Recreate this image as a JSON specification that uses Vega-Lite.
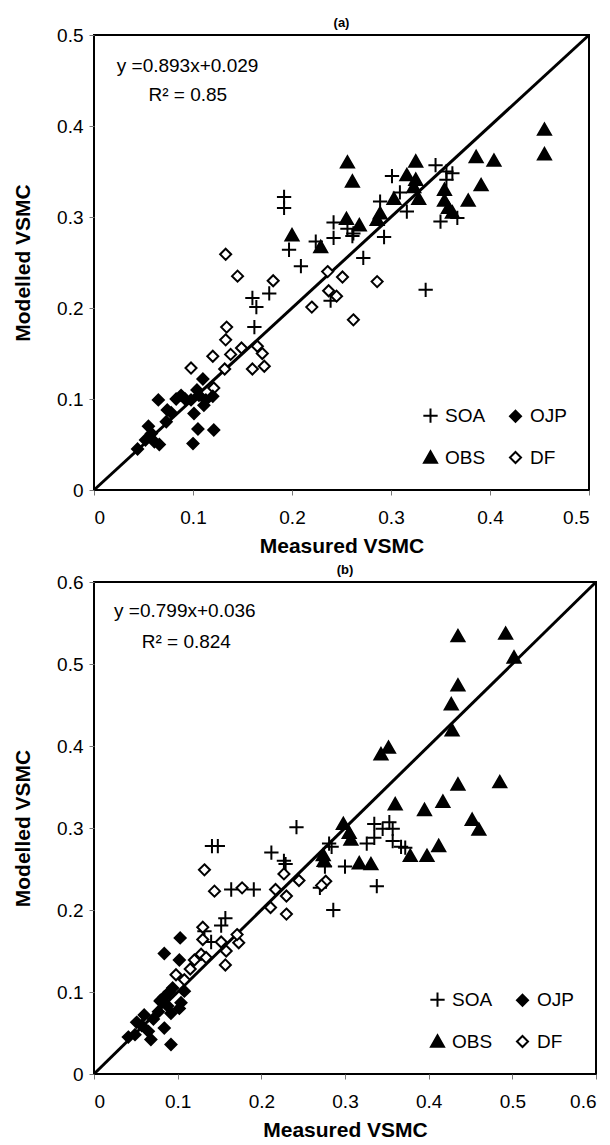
{
  "$schema": "https://vega.github.io/schema/vega-lite/v6.json",
  "padding": {"left": 11, "top": 16, "right": 2, "bottom": 2},
  "background": "white",
  "config": {
    "font": "Liberation Sans",
    "view": {"stroke": "black", "strokeWidth": 2},
    "axis": {"grid": false, "domain": false, "tickColor": "#777", "tickSize": 5, "tickWidth": 1,
             "labelFontSize": 19, "labelColor": "black", "labelFont": "Liberation Sans",
             "titleFontSize": 21, "titleFontWeight": "bold", "titleColor": "black", "titleFont": "Liberation Sans"},
    "axisX": {"titlePadding": 8, "labelPadding": 13},
    "axisY": {"titlePadding": 23, "labelPadding": 6},
    "title": {"fontSize": 13, "fontWeight": "bold", "offset": -4, "anchor": "middle", "font": "Liberation Sans", "color": "black"},
    "legend": {"orient": "bottom-right", "columns": 2, "offset": 22, "padding": 0, "rowPadding": 20, "columnPadding": 19,
               "symbolSize": 169, "symbolStrokeColor": "black", "symbolStrokeWidth": 2, "labelFontSize": 19,
               "labelFont": "Liberation Sans", "labelColor": "black", "labelOffset": 5, "title": null}
  },
  "datasets": {
    "pts": [
      {"panel":"a","series":"OBS","measured":0.455,"modelled":0.396},
      {"panel":"a","series":"OBS","measured":0.455,"modelled":0.369},
      {"panel":"a","series":"OBS","measured":0.386,"modelled":0.366},
      {"panel":"a","series":"OBS","measured":0.404,"modelled":0.362},
      {"panel":"a","series":"OBS","measured":0.391,"modelled":0.335},
      {"panel":"a","series":"OBS","measured":0.378,"modelled":0.318},
      {"panel":"a","series":"OBS","measured":0.256,"modelled":0.36},
      {"panel":"a","series":"OBS","measured":0.261,"modelled":0.339},
      {"panel":"a","series":"OBS","measured":0.325,"modelled":0.361},
      {"panel":"a","series":"OBS","measured":0.316,"modelled":0.346},
      {"panel":"a","series":"OBS","measured":0.325,"modelled":0.341},
      {"panel":"a","series":"OBS","measured":0.323,"modelled":0.333},
      {"panel":"a","series":"OBS","measured":0.328,"modelled":0.32},
      {"panel":"a","series":"OBS","measured":0.303,"modelled":0.32},
      {"panel":"a","series":"OBS","measured":0.289,"modelled":0.304},
      {"panel":"a","series":"OBS","measured":0.286,"modelled":0.297},
      {"panel":"a","series":"OBS","measured":0.255,"modelled":0.298},
      {"panel":"a","series":"OBS","measured":0.268,"modelled":0.291},
      {"panel":"a","series":"OBS","measured":0.354,"modelled":0.33},
      {"panel":"a","series":"OBS","measured":0.354,"modelled":0.318},
      {"panel":"a","series":"OBS","measured":0.358,"modelled":0.31},
      {"panel":"a","series":"OBS","measured":0.362,"modelled":0.305},
      {"panel":"a","series":"OBS","measured":0.2,"modelled":0.28},
      {"panel":"a","series":"OBS","measured":0.229,"modelled":0.267},
      {"panel":"a","series":"SOA","measured":0.345,"modelled":0.357},
      {"panel":"a","series":"SOA","measured":0.356,"modelled":0.35},
      {"panel":"a","series":"SOA","measured":0.362,"modelled":0.348},
      {"panel":"a","series":"SOA","measured":0.356,"modelled":0.341},
      {"panel":"a","series":"SOA","measured":0.301,"modelled":0.345},
      {"panel":"a","series":"SOA","measured":0.309,"modelled":0.327},
      {"panel":"a","series":"SOA","measured":0.289,"modelled":0.317},
      {"panel":"a","series":"SOA","measured":0.316,"modelled":0.306},
      {"panel":"a","series":"SOA","measured":0.35,"modelled":0.295},
      {"panel":"a","series":"SOA","measured":0.367,"modelled":0.299},
      {"panel":"a","series":"SOA","measured":0.293,"modelled":0.278},
      {"panel":"a","series":"SOA","measured":0.262,"modelled":0.282},
      {"panel":"a","series":"SOA","measured":0.192,"modelled":0.322},
      {"panel":"a","series":"SOA","measured":0.192,"modelled":0.31},
      {"panel":"a","series":"SOA","measured":0.242,"modelled":0.294},
      {"panel":"a","series":"SOA","measured":0.256,"modelled":0.287},
      {"panel":"a","series":"SOA","measured":0.261,"modelled":0.279},
      {"panel":"a","series":"SOA","measured":0.242,"modelled":0.277},
      {"panel":"a","series":"SOA","measured":0.224,"modelled":0.273},
      {"panel":"a","series":"SOA","measured":0.197,"modelled":0.264},
      {"panel":"a","series":"SOA","measured":0.209,"modelled":0.246},
      {"panel":"a","series":"SOA","measured":0.272,"modelled":0.255},
      {"panel":"a","series":"SOA","measured":0.335,"modelled":0.22},
      {"panel":"a","series":"SOA","measured":0.16,"modelled":0.211},
      {"panel":"a","series":"SOA","measured":0.164,"modelled":0.201},
      {"panel":"a","series":"SOA","measured":0.177,"modelled":0.216},
      {"panel":"a","series":"SOA","measured":0.162,"modelled":0.179},
      {"panel":"a","series":"SOA","measured":0.239,"modelled":0.208},
      {"panel":"a","series":"DF","measured":0.133,"modelled":0.259},
      {"panel":"a","series":"DF","measured":0.145,"modelled":0.235},
      {"panel":"a","series":"DF","measured":0.181,"modelled":0.23},
      {"panel":"a","series":"DF","measured":0.134,"modelled":0.179},
      {"panel":"a","series":"DF","measured":0.133,"modelled":0.165},
      {"panel":"a","series":"DF","measured":0.12,"modelled":0.147},
      {"panel":"a","series":"DF","measured":0.098,"modelled":0.134},
      {"panel":"a","series":"DF","measured":0.138,"modelled":0.149},
      {"panel":"a","series":"DF","measured":0.149,"modelled":0.156},
      {"panel":"a","series":"DF","measured":0.132,"modelled":0.133},
      {"panel":"a","series":"DF","measured":0.165,"modelled":0.158},
      {"panel":"a","series":"DF","measured":0.17,"modelled":0.15},
      {"panel":"a","series":"DF","measured":0.172,"modelled":0.136},
      {"panel":"a","series":"DF","measured":0.16,"modelled":0.133},
      {"panel":"a","series":"DF","measured":0.121,"modelled":0.112},
      {"panel":"a","series":"DF","measured":0.236,"modelled":0.24},
      {"panel":"a","series":"DF","measured":0.251,"modelled":0.234},
      {"panel":"a","series":"DF","measured":0.237,"modelled":0.219},
      {"panel":"a","series":"DF","measured":0.245,"modelled":0.213},
      {"panel":"a","series":"DF","measured":0.22,"modelled":0.201},
      {"panel":"a","series":"DF","measured":0.286,"modelled":0.229},
      {"panel":"a","series":"DF","measured":0.262,"modelled":0.187},
      {"panel":"a","series":"OJP","measured":0.065,"modelled":0.099},
      {"panel":"a","series":"OJP","measured":0.11,"modelled":0.122},
      {"panel":"a","series":"OJP","measured":0.088,"modelled":0.104},
      {"panel":"a","series":"OJP","measured":0.083,"modelled":0.1},
      {"panel":"a","series":"OJP","measured":0.098,"modelled":0.099},
      {"panel":"a","series":"OJP","measured":0.106,"modelled":0.104},
      {"panel":"a","series":"OJP","measured":0.113,"modelled":0.099},
      {"panel":"a","series":"OJP","measured":0.12,"modelled":0.103},
      {"panel":"a","series":"OJP","measured":0.111,"modelled":0.093},
      {"panel":"a","series":"OJP","measured":0.101,"modelled":0.084},
      {"panel":"a","series":"OJP","measured":0.074,"modelled":0.088},
      {"panel":"a","series":"OJP","measured":0.073,"modelled":0.075},
      {"panel":"a","series":"OJP","measured":0.055,"modelled":0.07},
      {"panel":"a","series":"OJP","measured":0.052,"modelled":0.055},
      {"panel":"a","series":"OJP","measured":0.061,"modelled":0.053},
      {"panel":"a","series":"OJP","measured":0.066,"modelled":0.05},
      {"panel":"a","series":"OJP","measured":0.044,"modelled":0.045},
      {"panel":"a","series":"OJP","measured":0.105,"modelled":0.067},
      {"panel":"a","series":"OJP","measured":0.121,"modelled":0.066},
      {"panel":"a","series":"OJP","measured":0.1,"modelled":0.051},
      {"panel":"a","series":"OJP","measured":0.092,"modelled":0.1},
      {"panel":"a","series":"OJP","measured":0.104,"modelled":0.11},
      {"panel":"a","series":"OJP","measured":0.078,"modelled":0.085},
      {"panel":"a","series":"OJP","measured":0.058,"modelled":0.062},

      {"panel":"b","series":"OBS","measured":0.435,"modelled":0.534},
      {"panel":"b","series":"OBS","measured":0.492,"modelled":0.537},
      {"panel":"b","series":"OBS","measured":0.502,"modelled":0.508},
      {"panel":"b","series":"OBS","measured":0.435,"modelled":0.474},
      {"panel":"b","series":"OBS","measured":0.427,"modelled":0.451},
      {"panel":"b","series":"OBS","measured":0.428,"modelled":0.419},
      {"panel":"b","series":"OBS","measured":0.352,"modelled":0.398},
      {"panel":"b","series":"OBS","measured":0.343,"modelled":0.39},
      {"panel":"b","series":"OBS","measured":0.435,"modelled":0.353},
      {"panel":"b","series":"OBS","measured":0.485,"modelled":0.356},
      {"panel":"b","series":"OBS","measured":0.417,"modelled":0.332},
      {"panel":"b","series":"OBS","measured":0.36,"modelled":0.329},
      {"panel":"b","series":"OBS","measured":0.395,"modelled":0.322},
      {"panel":"b","series":"OBS","measured":0.452,"modelled":0.31},
      {"panel":"b","series":"OBS","measured":0.46,"modelled":0.298},
      {"panel":"b","series":"OBS","measured":0.412,"modelled":0.278},
      {"panel":"b","series":"OBS","measured":0.398,"modelled":0.266},
      {"panel":"b","series":"OBS","measured":0.378,"modelled":0.266},
      {"panel":"b","series":"OBS","measured":0.331,"modelled":0.256},
      {"panel":"b","series":"OBS","measured":0.317,"modelled":0.257},
      {"panel":"b","series":"OBS","measured":0.298,"modelled":0.305},
      {"panel":"b","series":"OBS","measured":0.305,"modelled":0.294},
      {"panel":"b","series":"OBS","measured":0.307,"modelled":0.286},
      {"panel":"b","series":"OBS","measured":0.274,"modelled":0.267},
      {"panel":"b","series":"OBS","measured":0.275,"modelled":0.26},
      {"panel":"b","series":"SOA","measured":0.242,"modelled":0.301},
      {"panel":"b","series":"SOA","measured":0.141,"modelled":0.278},
      {"panel":"b","series":"SOA","measured":0.148,"modelled":0.278},
      {"panel":"b","series":"SOA","measured":0.212,"modelled":0.27},
      {"panel":"b","series":"SOA","measured":0.227,"modelled":0.26},
      {"panel":"b","series":"SOA","measured":0.229,"modelled":0.256},
      {"panel":"b","series":"SOA","measured":0.284,"modelled":0.277},
      {"panel":"b","series":"SOA","measured":0.276,"modelled":0.253},
      {"panel":"b","series":"SOA","measured":0.3,"modelled":0.253},
      {"panel":"b","series":"SOA","measured":0.326,"modelled":0.281},
      {"panel":"b","series":"SOA","measured":0.335,"modelled":0.305},
      {"panel":"b","series":"SOA","measured":0.345,"modelled":0.299},
      {"panel":"b","series":"SOA","measured":0.353,"modelled":0.307},
      {"panel":"b","series":"SOA","measured":0.357,"modelled":0.299},
      {"panel":"b","series":"SOA","measured":0.335,"modelled":0.288},
      {"panel":"b","series":"SOA","measured":0.357,"modelled":0.284},
      {"panel":"b","series":"SOA","measured":0.367,"modelled":0.277},
      {"panel":"b","series":"SOA","measured":0.372,"modelled":0.276},
      {"panel":"b","series":"SOA","measured":0.338,"modelled":0.229},
      {"panel":"b","series":"SOA","measured":0.286,"modelled":0.2},
      {"panel":"b","series":"SOA","measured":0.164,"modelled":0.225},
      {"panel":"b","series":"SOA","measured":0.191,"modelled":0.225},
      {"panel":"b","series":"SOA","measured":0.27,"modelled":0.227},
      {"panel":"b","series":"SOA","measured":0.157,"modelled":0.19},
      {"panel":"b","series":"SOA","measured":0.152,"modelled":0.181},
      {"panel":"b","series":"SOA","measured":0.132,"modelled":0.174},
      {"panel":"b","series":"SOA","measured":0.14,"modelled":0.161},
      {"panel":"b","series":"SOA","measured":0.281,"modelled":0.281},
      {"panel":"b","series":"DF","measured":0.132,"modelled":0.249},
      {"panel":"b","series":"DF","measured":0.144,"modelled":0.223},
      {"panel":"b","series":"DF","measured":0.177,"modelled":0.227},
      {"panel":"b","series":"DF","measured":0.227,"modelled":0.244},
      {"panel":"b","series":"DF","measured":0.245,"modelled":0.236},
      {"panel":"b","series":"DF","measured":0.217,"modelled":0.225},
      {"panel":"b","series":"DF","measured":0.23,"modelled":0.217},
      {"panel":"b","series":"DF","measured":0.211,"modelled":0.203},
      {"panel":"b","series":"DF","measured":0.23,"modelled":0.195},
      {"panel":"b","series":"DF","measured":0.277,"modelled":0.235},
      {"panel":"b","series":"DF","measured":0.272,"modelled":0.23},
      {"panel":"b","series":"DF","measured":0.13,"modelled":0.179},
      {"panel":"b","series":"DF","measured":0.13,"modelled":0.164},
      {"panel":"b","series":"DF","measured":0.152,"modelled":0.161},
      {"panel":"b","series":"DF","measured":0.158,"modelled":0.15},
      {"panel":"b","series":"DF","measured":0.157,"modelled":0.133},
      {"panel":"b","series":"DF","measured":0.173,"modelled":0.16},
      {"panel":"b","series":"DF","measured":0.171,"modelled":0.17},
      {"panel":"b","series":"DF","measured":0.12,"modelled":0.139},
      {"panel":"b","series":"DF","measured":0.098,"modelled":0.121},
      {"panel":"b","series":"DF","measured":0.108,"modelled":0.115},
      {"panel":"b","series":"DF","measured":0.128,"modelled":0.146},
      {"panel":"b","series":"DF","measured":0.134,"modelled":0.142},
      {"panel":"b","series":"DF","measured":0.115,"modelled":0.128},
      {"panel":"b","series":"OJP","measured":0.103,"modelled":0.166},
      {"panel":"b","series":"OJP","measured":0.084,"modelled":0.147},
      {"panel":"b","series":"OJP","measured":0.102,"modelled":0.139},
      {"panel":"b","series":"OJP","measured":0.108,"modelled":0.101},
      {"panel":"b","series":"OJP","measured":0.09,"modelled":0.1},
      {"panel":"b","series":"OJP","measured":0.084,"modelled":0.094},
      {"panel":"b","series":"OJP","measured":0.079,"modelled":0.089},
      {"panel":"b","series":"OJP","measured":0.104,"modelled":0.087},
      {"panel":"b","series":"OJP","measured":0.102,"modelled":0.08},
      {"panel":"b","series":"OJP","measured":0.088,"modelled":0.083},
      {"panel":"b","series":"OJP","measured":0.077,"modelled":0.076},
      {"panel":"b","series":"OJP","measured":0.06,"modelled":0.072},
      {"panel":"b","series":"OJP","measured":0.051,"modelled":0.063},
      {"panel":"b","series":"OJP","measured":0.057,"modelled":0.059},
      {"panel":"b","series":"OJP","measured":0.084,"modelled":0.056},
      {"panel":"b","series":"OJP","measured":0.065,"modelled":0.052},
      {"panel":"b","series":"OJP","measured":0.041,"modelled":0.045},
      {"panel":"b","series":"OJP","measured":0.049,"modelled":0.048},
      {"panel":"b","series":"OJP","measured":0.068,"modelled":0.042},
      {"panel":"b","series":"OJP","measured":0.092,"modelled":0.036},
      {"panel":"b","series":"OJP","measured":0.092,"modelled":0.074},
      {"panel":"b","series":"OJP","measured":0.071,"modelled":0.067},
      {"panel":"b","series":"OJP","measured":0.094,"modelled":0.105},
      {"panel":"b","series":"OJP","measured":0.08,"modelled":0.09}
    ]
  },
  "spacing": 6,
  "resolve": {"scale": {"x": "independent", "y": "independent", "shape": "independent", "fill": "independent", "stroke": "independent"}},
  "vconcat": [
    {
      "width": 495, "height": 455,
      "title": "(a)",
      "layer": [
        {
          "data": {"values": [{"m": 0, "v": 0}, {"m": 0.5, "v": 0.5}]},
          "mark": {"type": "line", "color": "black", "strokeWidth": 3},
          "encoding": {
            "x": {"field": "m", "type": "quantitative", "title": "Measured VSMC",
                  "scale": {"domain": [0, 0.5], "nice": false, "zero": false},
                  "axis": {"values": [0, 0.1, 0.2, 0.3, 0.4, 0.5], "format": "~g"}},
            "y": {"field": "v", "type": "quantitative", "title": "Modelled VSMC",
                  "scale": {"domain": [0, 0.5], "nice": false, "zero": false},
                  "axis": {"values": [0, 0.1, 0.2, 0.3, 0.4, 0.5], "format": "~g"}}
          }
        },
        {
          "data": {"name": "pts"},
          "transform": [{"filter": "datum.panel == 'a'"}],
          "mark": {"type": "point", "filled": false, "strokeWidth": 2, "size": 169, "opacity": 1},
          "encoding": {
            "x": {"field": "measured", "type": "quantitative", "title": "Measured VSMC"},
            "y": {"field": "modelled", "type": "quantitative", "title": "Modelled VSMC"},
            "shape": {"field": "series", "type": "nominal",
                      "scale": {"domain": ["SOA", "OBS", "OJP", "DF"],
                                "range": ["M-1.1,0L1.1,0M0,-1.1L0,1.1", "M0,-0.95L1,0.8L-1,0.8Z", "M0,-0.85L0.85,0L0,0.85L-0.85,0Z", "M0,-0.85L0.85,0L0,0.85L-0.85,0Z"]},
                      "legend": {"title": null}},
            "fill": {"field": "series", "type": "nominal",
                     "scale": {"domain": ["SOA", "OBS", "OJP", "DF"], "range": ["black", "black", "black", "white"]},
                     "legend": {"title": null}},
            "stroke": {"field": "series", "type": "nominal",
                     "scale": {"domain": ["SOA", "OBS", "OJP", "DF"], "range": ["black", "black", "black", "black"]},
                     "legend": {"title": null}}
          }
        },
        {
          "data": {"values": [{}]},
          "mark": {"type": "text", "align": "left", "baseline": "middle", "fontSize": 19, "color": "black"},
          "encoding": {"x": {"datum": 0.023}, "y": {"datum": 0.466}, "text": {"value": "y =0.893x+0.029"}}
        },
        {
          "data": {"values": [{}]},
          "mark": {"type": "text", "align": "left", "baseline": "middle", "fontSize": 19, "color": "black"},
          "encoding": {"x": {"datum": 0.055}, "y": {"datum": 0.434}, "text": {"value": "R² = 0.85"}}
        }
      ]
    },
    {
      "width": 502, "height": 492,
      "title": "(b)",
      "layer": [
        {
          "data": {"values": [{"m": 0, "v": 0}, {"m": 0.6, "v": 0.6}]},
          "mark": {"type": "line", "color": "black", "strokeWidth": 3},
          "encoding": {
            "x": {"field": "m", "type": "quantitative", "title": "Measured VSMC",
                  "scale": {"domain": [0, 0.6], "nice": false, "zero": false},
                  "axis": {"values": [0, 0.1, 0.2, 0.3, 0.4, 0.5, 0.6], "format": "~g"}},
            "y": {"field": "v", "type": "quantitative", "title": "Modelled VSMC",
                  "scale": {"domain": [0, 0.6], "nice": false, "zero": false},
                  "axis": {"values": [0, 0.1, 0.2, 0.3, 0.4, 0.5, 0.6], "format": "~g"}}
          }
        },
        {
          "data": {"name": "pts"},
          "transform": [{"filter": "datum.panel == 'b'"}],
          "mark": {"type": "point", "filled": false, "strokeWidth": 2, "size": 169, "opacity": 1},
          "encoding": {
            "x": {"field": "measured", "type": "quantitative", "title": "Measured VSMC"},
            "y": {"field": "modelled", "type": "quantitative", "title": "Modelled VSMC"},
            "shape": {"field": "series", "type": "nominal",
                      "scale": {"domain": ["SOA", "OBS", "OJP", "DF"],
                                "range": ["M-1.1,0L1.1,0M0,-1.1L0,1.1", "M0,-0.95L1,0.8L-1,0.8Z", "M0,-0.85L0.85,0L0,0.85L-0.85,0Z", "M0,-0.85L0.85,0L0,0.85L-0.85,0Z"]},
                      "legend": {"title": null}},
            "fill": {"field": "series", "type": "nominal",
                     "scale": {"domain": ["SOA", "OBS", "OJP", "DF"], "range": ["black", "black", "black", "white"]},
                     "legend": {"title": null}},
            "stroke": {"field": "series", "type": "nominal",
                     "scale": {"domain": ["SOA", "OBS", "OJP", "DF"], "range": ["black", "black", "black", "black"]},
                     "legend": {"title": null}}
          }
        },
        {
          "data": {"values": [{}]},
          "mark": {"type": "text", "align": "left", "baseline": "middle", "fontSize": 19, "color": "black"},
          "encoding": {"x": {"datum": 0.024}, "y": {"datum": 0.565}, "text": {"value": "y =0.799x+0.036"}}
        },
        {
          "data": {"values": [{}]},
          "mark": {"type": "text", "align": "left", "baseline": "middle", "fontSize": 19, "color": "black"},
          "encoding": {"x": {"datum": 0.057}, "y": {"datum": 0.527}, "text": {"value": "R² = 0.824"}}
        }
      ]
    }
  ]
}
